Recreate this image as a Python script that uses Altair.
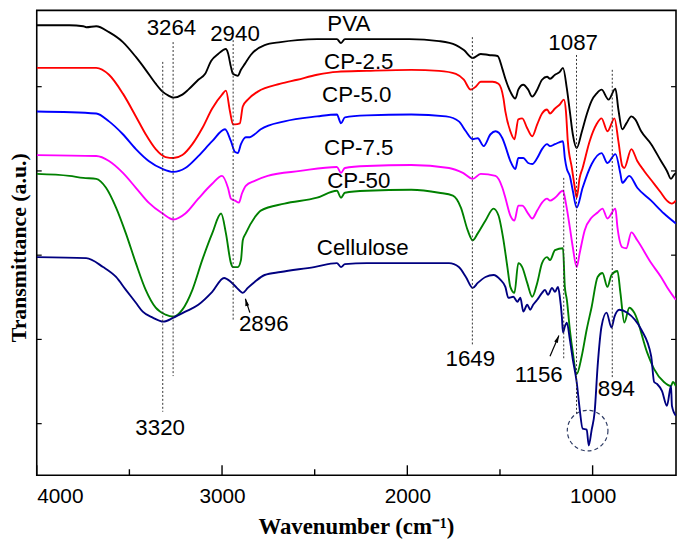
import altair as alt
import pandas as pd

# ---------------- data (wavenumber cm-1, transmittance a.u.) ----------------
wn_pva = [4000, 3824, 3749, 3733, 3679, 3610, 3535, 3465, 3412, 3358, 3321, 3289, 3262, 3214, 3182,
          3128, 3091, 3059, 3021, 2979, 2968, 2952, 2941, 2930, 2915, 2898, 2877, 2845, 2770, 2684,
          2594, 2487, 2380, 2358, 2337, 2219, 1989, 1829, 1738, 1695, 1647, 1604, 1561, 1513, 1487,
          1471, 1444, 1417, 1401, 1374, 1348, 1326, 1299, 1273, 1246, 1230, 1203, 1177, 1160, 1139,
          1123, 1107, 1086, 1059, 1032, 1005, 979, 952, 914, 877, 861, 840, 818, 791, 770,
          738, 684, 631, 599, 577, 561, 551]
t_pva = [454, 454, 453, 452, 453, 447, 437, 422, 409, 395, 387, 383, 381, 384, 389,
         399, 405, 418, 425, 430, 426, 412, 405, 404, 403, 409, 415, 424, 434, 437,
         439, 440, 440, 436, 440, 440, 440, 438, 434, 429, 421, 425, 424, 423, 410,
         400, 387, 380, 389, 394, 389, 382, 389, 399, 402, 400, 404, 407, 411, 390,
         367, 344, 330, 346, 364, 378, 385, 389, 379, 390, 369, 349, 355, 362, 359,
         347, 334, 317, 307, 299, 303, 305]

wn_cp25 = [4000, 3679, 3610, 3535, 3465, 3412, 3358, 3305, 3262, 3214, 3160, 3107, 3053, 3000, 2979,
           2957, 2941, 2930, 2904, 2888, 2861, 2807, 2684, 2594, 2487, 2380, 2219, 1979, 1829, 1738,
           1695, 1658, 1631, 1604, 1540, 1508, 1481, 1471, 1444, 1422, 1401, 1380, 1353, 1326, 1299,
           1273, 1246, 1230, 1203, 1177, 1155, 1144, 1134, 1112, 1096, 1086, 1070, 1054, 1016, 979,
           952, 920, 882, 861, 840, 829, 791, 759, 722, 668, 631, 599, 572, 551]
t_cp25 = [411, 411, 404, 385, 362, 344, 329, 321, 320, 323, 334, 350, 370, 384, 388,
          367, 354, 354, 355, 372, 379, 387, 395, 399, 404, 407, 408, 409, 408, 405,
          399, 389, 392, 397, 397, 395, 380, 367, 347, 339, 359, 360, 350, 342, 354,
          365, 369, 365, 370, 374, 379, 367, 337, 310, 290, 280, 300, 310, 337, 354,
          360, 347, 360, 337, 312, 310, 329, 317, 307, 294, 285, 277, 274, 277]

wn_cp50 = [4000, 3679, 3610, 3535, 3465, 3396, 3321, 3262, 3198, 3128, 3053, 2984, 2952, 2930, 2915,
           2898, 2872, 2850, 2824, 2791, 2663, 2487, 2380, 2358, 2337, 2219, 1979, 1791, 1722, 1684,
           1647, 1620, 1588, 1551, 1524, 1487, 1471, 1444, 1417, 1401, 1374, 1348, 1326, 1299, 1273,
           1246, 1230, 1203, 1160, 1150, 1139, 1123, 1107, 1086, 1054, 1005, 952, 920, 877, 850,
           840, 802, 759, 684, 615, 551]
t_cp50 = [367, 365, 357, 344, 329, 317, 309, 306, 310, 322, 337, 349, 337, 326, 325,
          334, 341, 341, 344, 349, 357, 362, 364, 355, 361, 363, 364, 362, 357, 347,
          339, 340, 332, 344, 347, 340, 332, 317, 309, 320, 320, 315, 314, 320, 329,
          334, 332, 334, 337, 320, 309, 302, 287, 270, 290, 314, 325, 315, 324, 304,
          295, 302, 290, 277, 264, 254]

wn_cp75 = [4000, 3679, 3610, 3535, 3465, 3396, 3321, 3262, 3198, 3128, 3053, 3000, 2968, 2952, 2930,
           2909, 2893, 2872, 2824, 2754, 2578, 2380, 2358, 2337, 2219, 1979, 1775, 1700, 1647, 1604,
           1524, 1487, 1471, 1444, 1422, 1401, 1380, 1348, 1326, 1299, 1273, 1246, 1230, 1203, 1160,
           1144, 1123, 1107, 1086, 1070, 1043, 1005, 973, 947, 920, 877, 866, 840, 818, 791,
           759, 684, 631, 599, 551]
t_cp75 = [323, 322, 317, 305, 290, 275, 264, 258, 264, 279, 294, 302, 290, 279, 277,
          275, 284, 292, 297, 302, 307, 311, 305, 310, 312, 313, 310, 305, 299, 304,
          302, 290, 280, 262, 257, 272, 272, 264, 259, 267, 275, 279, 277, 280, 287,
          274, 250, 230, 210, 224, 247, 260, 265, 269, 259, 269, 250, 230, 229, 245,
          237, 214, 200, 190, 177]

wn_cp500 = [4000, 3824, 3749, 3679, 3626, 3572, 3519, 3465, 3412, 3358, 3305, 3262, 3214, 3160, 3107,
            3053, 3005, 2979, 2952, 2941, 2915, 2898, 2888, 2872, 2824, 2791, 2663, 2487, 2380, 2358,
            2337, 2219, 1979, 1829, 1754, 1711, 1674, 1647, 1620, 1578, 1535, 1508, 1481, 1460, 1444,
            1422, 1401, 1380, 1353, 1326, 1299, 1273, 1246, 1230, 1203, 1160, 1150, 1139, 1123, 1107,
            1086, 1059, 1032, 1005, 973, 947, 920, 898, 866, 850, 829, 802, 775, 706, 668,
            615, 577, 567, 551]
t_cp500 = [304, 302, 300, 299, 290, 270, 244, 214, 187, 169, 162, 160, 167, 187, 217,
           244, 264, 244, 214, 210, 210, 217, 237, 244, 260, 267, 274, 280, 287, 280,
           285, 287, 288, 285, 282, 270, 247, 237, 244, 257, 269, 262, 237, 210, 190,
           184, 214, 210, 194, 180, 194, 214, 220, 217, 227, 229, 190, 177, 147, 124,
           102, 120, 147, 170, 200, 204, 190, 202, 206, 184, 154, 169, 164, 124, 107,
           94, 90, 94, 90]

wn_cell = [4000, 3733, 3642, 3572, 3519, 3465, 3428, 3374, 3316, 3262, 3198, 3128, 3053, 2989, 2952,
           2920, 2888, 2861, 2824, 2770, 2684, 2503, 2380, 2358, 2337, 2219, 1979, 1775, 1722, 1684,
           1647, 1620, 1578, 1535, 1497, 1471, 1455, 1428, 1406, 1390, 1374, 1353, 1337, 1321, 1299,
           1273, 1257, 1241, 1219, 1203, 1187, 1177, 1166, 1160, 1150, 1139, 1123, 1107, 1086, 1070,
           1054, 1032, 1021, 1005, 989, 973, 952, 925, 898, 882, 856, 813, 738, 684, 668,
           652, 626, 599, 577, 572, 551]
t_cell = [220, 219, 210, 200, 187, 174, 165, 159, 155, 159, 165, 172, 185, 199, 195,
          189, 184, 189, 195, 202, 205, 210, 214, 210, 213, 214, 214, 214, 210, 200,
          189, 194, 200, 202, 197, 190, 179, 180, 175, 179, 165, 172, 167, 172, 177,
          184, 187, 182, 189, 185, 190, 180, 160, 144, 150, 154, 137, 117, 94, 67,
          47, 46, 30, 46, 64, 110, 150, 164, 149, 160, 167, 164, 147, 120, 94,
          92, 85, 70, 90, 70, 60]

series_names = ["PVA", "CP-2.5", "CP-5.0", "CP-7.5", "CP-50", "Cellulose"]
series_wn = [wn_pva, wn_cp25, wn_cp50, wn_cp75, wn_cp500, wn_cell]
series_t = [t_pva, t_cp25, t_cp50, t_cp75, t_cp500, t_cell]
series_colors = ["#000000", "#ff0000", "#0000ff", "#ff00ff", "#008000", "#000080"]

# annotation dashed lines
mark_wn = [3320, 3264, 2940, 1649, 1156, 1087, 894]
mark_top = [417, 437, 439, 442, 300, 424, 409]
mark_bot = [64, 100, 155, 130, 117, 60, 97]

# text labels
lab_text = ["PVA", "CP-2.5", "CP-5.0", "CP-7.5", "CP-50", "Cellulose",
            "3264", "2940", "1087", "2896", "3320", "1649", "1156", "894"]
lab_wn = [2316, 2262, 2273, 2262, 2262, 2241, 3273, 2930, 1105, 2775, 3334, 1660, 1291, 872]
lab_t = [455, 417, 384, 330, 297, 229, 451, 445, 436, 152, 48, 117, 101, 87]

# arrows (tail -> tip)
arr_wn_tail = [2850, 1230]
arr_t_tail = [164, 120]
arr_wn_tip = [2874, 1182]
arr_t_tip = [178, 141]
arr_angle = [345, 23]

# dashed circle
circ_wn = [1027]
circ_t = [45]

# axis ticks
xtick_major = [4000, 3000, 2000, 1000]
xtick_minor = [3500, 2500, 1500]
ytick_vals = [52, 137, 222, 307, 392]

# ---------------- chart ----------------
W, H = 645, 469
xscale = alt.Scale(domain=[4000, 550], nice=False, zero=False)
yscale = alt.Scale(domain=[0, 469], nice=False, zero=False)

xaxis = alt.Axis(values=xtick_major, format="d", labelFont="Liberation Sans", labelFontSize=21,
                 labelColor="black", labelPadding=11, labelBaseline="top", ticks=False, tickSize=0,
                 domain=False, grid=False, title="Wavenumber (cm\u207b\u00b9)",
                 titleFont="Liberation Serif", titleFontSize=23, titleFontWeight="bold",
                 titleColor="black", titleBaseline="alphabetic", titleY=59, titleX=322)
yaxis = alt.Axis(labels=False, ticks=False, tickSize=0, domain=False, grid=False,
                 title="Transmittance (a.u.)", titleFont="Liberation Serif", titleFontSize=22,
                 titleFontWeight="bold", titleColor="black", titleAngle=270,
                 titleBaseline="alphabetic", titleAlign="center", titleX=-11, titleY=239)


def X(field):
    return alt.X(field, scale=xscale, axis=xaxis)


def Y(field):
    return alt.Y(field, scale=yscale, axis=yaxis)


layers = []
for name, wn, tv, col in zip(series_names, series_wn, series_t, series_colors):
    df = pd.DataFrame({"wn": wn, "t": tv, "i": list(range(len(wn)))})
    layers.append(
        alt.Chart(df).mark_line(color=col, strokeWidth=1.9, clip=True,
                                interpolate="monotone").encode(
            x=X("wn:Q"), y=Y("t:Q"), order="i:Q",
        )
    )

df_mark = pd.DataFrame({"wn": mark_wn, "top": mark_top, "bot": mark_bot})
dashed = alt.Chart(df_mark).mark_rule(color="#333333", strokeWidth=1, strokeDash=[2, 2]).encode(
    x=X("wn:Q"), y=Y("top:Q"), y2="bot:Q",
)

df_lab = pd.DataFrame({"wn": lab_wn, "t": lab_t, "txt": lab_text})
labels = alt.Chart(df_lab).mark_text(font="Liberation Sans", fontSize=22.5, color="black",
                                     align="center", baseline="middle").encode(
    x=X("wn:Q"), y=Y("t:Q"), text="txt:N",
)

df_arr = pd.DataFrame({"wn0": arr_wn_tail, "t0": arr_t_tail, "wn1": arr_wn_tip, "t1": arr_t_tip,
                       "ang": arr_angle})
shafts = alt.Chart(df_arr).mark_rule(color="black", strokeWidth=1.2).encode(
    x=X("wn0:Q"), x2="wn1:Q", y=Y("t0:Q"), y2="t1:Q",
)
heads = alt.Chart(df_arr).mark_point(shape="M0,0L0.6,2.2L-0.6,2.2Z", filled=True, color="black",
                                     size=45, opacity=1, strokeWidth=0).encode(
    x=X("wn1:Q"), y=Y("t1:Q"), angle=alt.Angle("ang:Q", scale=None),
)

df_circ = pd.DataFrame({"wn": circ_wn, "t": circ_t})
circle = alt.Chart(df_circ).mark_point(shape="circle", filled=False, color="#2e3b63", size=1681,
                                       strokeWidth=1.2, strokeDash=[4, 3], opacity=1).encode(
    x=X("wn:Q"), y=Y("t:Q"),
)

df_xmaj = pd.DataFrame({"wn": xtick_major})
df_xmin = pd.DataFrame({"wn": xtick_minor})
df_yt = pd.DataFrame({"v": ytick_vals})
xt_major = alt.Chart(df_xmaj).mark_rule(color="black", strokeWidth=1.4).encode(
    x=X("wn:Q"), y=alt.value(H), y2=alt.value(H - 10))
xt_minor = alt.Chart(df_xmin).mark_rule(color="black", strokeWidth=1.4).encode(
    x=X("wn:Q"), y=alt.value(H), y2=alt.value(H - 6))
yt_left = alt.Chart(df_yt).mark_rule(color="black", strokeWidth=1.2).encode(
    y=Y("v:Q"), x=alt.value(0), x2=alt.value(5))
yt_right = alt.Chart(df_yt).mark_rule(color="black", strokeWidth=1.2).encode(
    y=Y("v:Q"), x=alt.value(W - 5), x2=alt.value(W))

chart = alt.layer(*layers, dashed, shafts, heads, circle, labels,
                  xt_major, xt_minor, yt_left, yt_right).properties(
    width=W, height=H,
    autosize=alt.AutoSizeParams(type="none"),
    padding={"left": 29, "top": 0, "right": 1, "bottom": 64},
    background="white",
).configure_view(stroke="black", strokeWidth=1.6)

chart.save("out.html", embed_options={"renderer": "svg", "actions": False})
